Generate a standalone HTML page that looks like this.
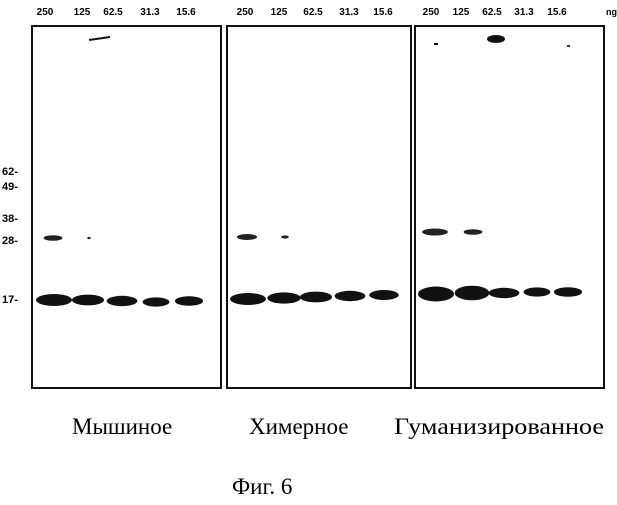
<!DOCTYPE html>
<html><head><meta charset="utf-8"><style>
body{margin:0;background:#fff;width:617px;height:500px;overflow:hidden}
.lab{font-family:"Liberation Sans",sans-serif;font-weight:bold}
.cap{font-family:"Liberation Serif",serif;font-size:23px}
</style></head><body>
<svg id="blot" width="617" height="500" viewBox="0 0 617 500" xmlns="http://www.w3.org/2000/svg">
<g id="panels"></g>
<g id="marks"></g>
<g id="txt"></g>
<text class="cap" x="72" y="434" fill="#000">Мышиное</text>
<text class="cap" x="249" y="434" fill="#000">Химерное</text>
<text class="cap" x="394" y="434" fill="#000" textLength="210" lengthAdjust="spacingAndGlyphs">Гуманизированное</text>
<text class="cap" x="232" y="494" fill="#000">Фиг. 6</text>
</svg>
<script>
const lanes = ["250","125","62.5","31.3","15.6"];
const markers = ["62","49","38","28","17"];
const markerY = [171,186,218,240,299];
const panelNames = ["mouse","chimeric","humanized"];
const band17 = [[1.0,0.85,0.8,0.65,0.7],[1.0,0.9,0.85,0.8,0.75],[1.0,0.95,0.8,0.65,0.7]];
const band28 = [[0.6,0.05,0,0,0],[0.65,0.2,0,0,0],[0.85,0.6,0,0,0]];
const y17 = [[300,300,301,302,301],[299,298,297,296,295],[294,293,293,292,292]];
const y28 = [238,237,232];
const P = [{x:32,w:189},{x:227,w:184},{x:415,w:189}];
const laneX = [[54,88,122,156,189],[248,284,316,350,384],[436,472,504,537,568]];
const labelX = [[45,82,113,150,186],[245,279,313,349,383],[431,461,492,524,557]];
const ns="http://www.w3.org/2000/svg";
function el(t,a,p){const e=document.createElementNS(ns,t);for(const k in a)e.setAttribute(k,a[k]);document.getElementById(p).appendChild(e);return e;}
P.forEach((p,i)=>{
  const r=el('rect',{x:p.x,y:26,width:p.w,height:362,fill:'none',stroke:'#111','stroke-width':2},'panels');
  
  
  lanes.forEach((l,j)=>{
    const t=el('text',{x:labelX[i][j],y:15,'font-size':10,'text-anchor':'middle',fill:'#000',class:'lab'},'txt');
    t.textContent=l;
    
    
    const v=band17[i][j];
    if(v>0){const b=el('ellipse',{cx:laneX[i][j],cy:y17[i][j],rx:5+13*v,ry:2+4*v+(i==2&&j<2?1.5:0),fill:'#111'},'marks');
      
      }
    const w=band28[i][j];
    if(w>0){const b=el('ellipse',{cx:laneX[i][j]-(j==0?1:-1),cy:y28[i],rx:14*w+1,ry:1+3*w,fill:'#222'},'marks');
      
      }
  });
});
markers.forEach((m,k)=>{
  const t=el('text',{x:2,y:markerY[k]+4,'font-size':11,fill:'#000',class:'lab'},'txt');
  t.textContent=m+'-';
  
  
});
const ng=el('text',{x:606,y:15,'font-size':9,fill:'#000',class:'lab'},'txt');ng.textContent='ng';


const a1=el('path',{d:'M89 40 L110 37',stroke:'#111','stroke-width':2},'marks');


const a2=el('ellipse',{cx:496,cy:39,rx:9,ry:4,fill:'#111'},'marks');


const a3=el('rect',{x:434,y:43,width:4,height:2,fill:'#111'},'marks');


const a4=el('rect',{x:567,y:45,width:3,height:2,fill:'#333'},'marks');


</script>
</body></html>
